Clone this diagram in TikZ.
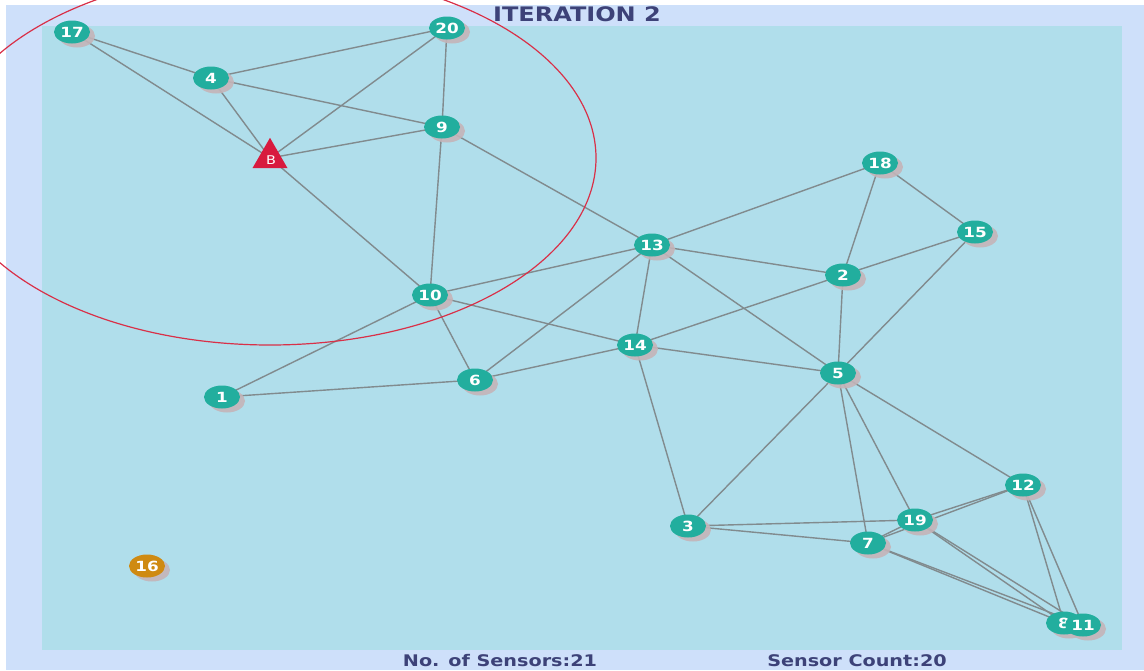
\documentclass[tikz,border=0pt]{standalone}
\usepackage{fontspec}
\usetikzlibrary{shapes.geometric,shadows}
\newfontfamily\hdfont[FakeStretch=1.2]{DejaVu Sans}
\definecolor{outerbg}{HTML}{CEE0FA}
\definecolor{fieldbg}{HTML}{B0DEEB}
\definecolor{sensor}{HTML}{22AE9E}
\definecolor{isolated}{HTML}{CF8A12}
\definecolor{basest}{HTML}{D81A3E}
\definecolor{link}{HTML}{818B8E}
\definecolor{coverred}{HTML}{D93048}
\definecolor{caption}{HTML}{3D4278}
\definecolor{shade}{HTML}{C4B4B8}
\pgfdeclarelayer{back}
\pgfdeclarelayer{links}
\pgfsetlayers{back,links,main}
\tikzset{
  sensornode/.style={ellipse, fill=sensor, minimum width=36pt, minimum height=23pt,
    inner sep=0pt, text=white, font=\hdfont\bfseries\fontsize{14}{14}\selectfont,
    drop shadow={shadow xshift=5pt, shadow yshift=-4pt, fill=shade, opacity=0.9}},
  lonenode/.style={sensornode, fill=isolated},
  basenode/.style={isosceles triangle, isosceles triangle apex angle=60, shape border rotate=90,
    fill=basest, minimum width=35pt, minimum height=21pt, inner sep=0pt},
  wire/.style={draw=link, line width=1.4pt},
  captext/.style={text=caption, font=\hdfont\bfseries\fontsize{16}{16}\selectfont},
}
\begin{document}
\begin{tikzpicture}[x=1pt,y=-1pt]
\useasboundingbox (0,0) rectangle (1144,670);
\clip (0,0) rectangle (1144,670);
\begin{pgfonlayer}{back}
  \fill[outerbg] (6,5) rectangle (1144,670);
  \fill[fieldbg] (42,26) rectangle (1122,650);
\end{pgfonlayer}

% sensors
\node[sensornode] (n17) at (72,32) {17};
\node[sensornode] (n20) at (447,28) {20};
\node[sensornode] (n4) at (211,78) {4};
\node[sensornode] (n9) at (442,127) {9};
\node[basenode] (B) at (270,158) {};
\node[text=white, font=\hdfont\fontsize{12}{12}\selectfont, inner sep=0pt] (Blabel) at (271,160) {B};
\node[sensornode] (n18) at (880,163) {18};
\node[sensornode] (n15) at (975,232) {15};
\node[sensornode] (n13) at (652,245) {13};
\node[sensornode] (n2) at (843,275) {2};
\node[sensornode] (n10) at (430,295) {10};
\node[sensornode] (n14) at (635,345) {14};
\node[sensornode] (n5) at (838,373) {5};
\node[sensornode] (n6) at (475,380) {6};
\node[sensornode] (n1) at (222,397) {1};
\node[sensornode] (n12) at (1023,485) {12};
\node[sensornode] (n19) at (915,520) {19};
\node[sensornode] (n3) at (688,526) {3};
\node[sensornode] (n7) at (868,543) {7};
\node[lonenode] (n16) at (147,566) {16};
\node[sensornode] (n8) at (1064,623) {8};
\node[sensornode] (n11) at (1083,625) {11};

% radio links and base-station range
\begin{pgfonlayer}{links}
  \foreach \a/\b in {n17/n4, n17/B, n20/n4, n20/B, n20/n9, n4/n9, n4/B, B/n9, B/n10,
      n9/n10, n9/n13, n13/n18, n13/n2, n13/n10, n13/n6, n13/n14, n13/n5,
      n18/n2, n18/n15, n15/n2, n15/n5, n2/n5, n2/n14,
      n10/n14, n10/n6, n10/n1, n14/n6, n14/n5, n14/n3, n6/n1,
      n5/n3, n5/n7, n5/n19, n5/n12, n3/n19, n3/n7,
      n7/n19, n7/n12, n19/n12, n7/n8, n7/n11, n19/n8, n19/n11, n12/n8, n12/n11}
    \draw[wire] (\a.center) -- (\b.center);
  \draw[draw=coverred, line width=1.2pt] (B.center) ellipse [x radius=326, y radius=187];
\end{pgfonlayer}

% captions
\node[text=caption, font=\hdfont\bfseries\fontsize{20}{20}\selectfont] (title) at (577,14) {ITERATION 2};
\node[captext] (count1) at (500,661) {No. of Sensors:21};
\node[captext] (count2) at (857,661) {Sensor Count:20};
\end{tikzpicture}
\end{document}
